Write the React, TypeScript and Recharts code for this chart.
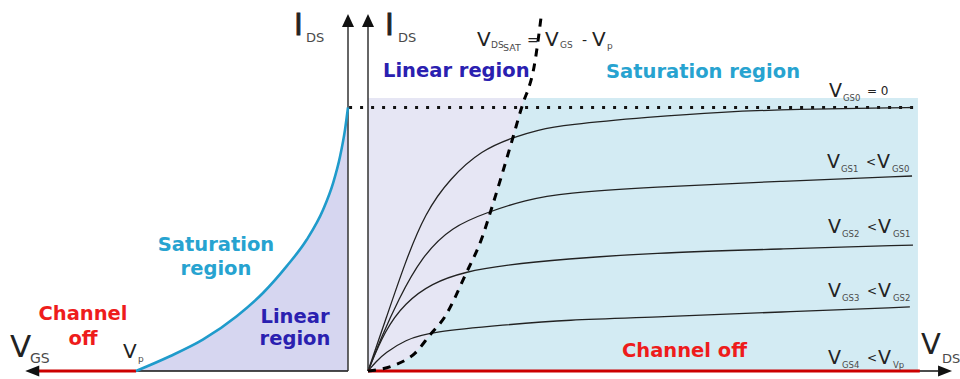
import React from 'react';
import { ComposedChart, Line, Area, Scatter, XAxis, YAxis } from 'recharts';

type P = [number, number];

// ---------- Left panel: transfer characteristic (x = VGS, y = IDS, IDSS = 10) ----------
const transferCurve: P[] = [
  [-4, 0], [-3.36, 0.56], [-2.74, 1.19], [-2.1, 2.08], [-1.6, 2.97], [-1.16, 3.97],
  [-0.78, 4.98], [-0.47, 6.12], [-0.28, 7.14], [-0.15, 8.14], [-0.057, 9.15], [0, 10],
];
const leftChannelOff: P[] = [[-5.85, 0], [-4, 0]];
const leftXAxisLine: P[] = [[-5.85, 0], [0, 0]];
const leftYAxisLine: P[] = [[0, 0], [0, 13.1]];
const leftXTip: P[] = [[-6.09, 0]];
const leftYTip: P[] = [[0, 13.55]];

// ---------- Right panel: output characteristic (x = VDS, y = IDS) ----------
const vgs0: P[] = [
  [0, 0], [0.6, 2.05], [1.19, 4.1], [1.84, 6.0], [2.65, 7.32], [3.67, 8.39],
  [4.69, 8.87], [5.48, 9.15], [6.35, 9.34], [9.1, 9.64], [11.35, 9.83], [13.94, 9.94],
  [16.52, 9.98], [17.55, 10.0],
];
const vgs1: P[] = [
  [0, 0], [0.44, 1.3], [0.97, 2.69], [1.73, 4.34], [2.7, 5.48], [3.87, 6.03], [5.06, 6.49],
  [6.35, 6.76], [9.1, 6.98], [13.29, 7.2], [17.55, 7.4],
];
const vgs2: P[] = [
  [0, 0], [0.55, 1.56], [1.19, 2.58], [2.05, 3.33], [3.13, 3.77], [4.42, 4.02], [6.35, 4.25],
  [9.1, 4.48], [13.29, 4.63], [17.58, 4.78],
];
const vgs3: P[] = [
  [0, 0], [0.26, 0.36], [0.55, 0.68], [1.19, 1.18], [2.05, 1.49], [4.42, 1.75], [6.35, 1.94],
  [9.42, 2.05], [13.29, 2.24], [17.48, 2.43],
];
const vgs4ChannelOff: P[] = [[0, 0], [17.8, 0]];
const vdsSat: P[] = [
  [0, 0], [0.87, 0.23], [1.52, 0.68], [2.0, 1.37], [2.48, 2.06], [3.13, 3.62], [3.71, 5.16],
  [3.97, 6.11], [4.68, 8.88], [4.96, 10.01], [5.06, 10.36], [5.16, 10.66], [5.35, 11.5], [5.58, 13.4],
];
const idssLine: P[] = [[-0.61, 10], [17.6, 10]];
const regionTop = 10.36;
const regionEnd = 17.74;
const rightXAxisLine: P[] = [[0, 0], [18.4, 0]];
const rightYAxisLine: P[] = [[0, 0], [0, 13.1]];
const rightXTip: P[] = [[18.84, 0]];
const rightYTip: P[] = [[0, 13.55]];

const xy = (pts: P[]) => pts.map(([x, y]) => ({ x, y }));

const W = 960;
const H = 379;
const Y_DOMAIN: [number, number] = [-0.25, 14];
const V_MARGIN = { top: 2.1, bottom: 1.41 };

const AXIS = '#333';
const RED = '#cc0000';
const TEXT_RED = '#ee1c1c';
const SAT_BLUE = '#27a3d0';
const LIN_BLUE = '#2a20b0';

const upArrow = (p: any) => (
  <path d={`M${p.cx},${p.cy} L${p.cx - 6},${p.cy + 13} L${p.cx + 6},${p.cy + 13} Z`} fill="#111" />
);
const rightArrow = (p: any) => (
  <path d={`M${p.cx},${p.cy} L${p.cx - 14},${p.cy - 5.5} L${p.cx - 14},${p.cy + 5.5} Z`} fill="#111" />
);
const leftArrow = (p: any) => (
  <path d={`M${p.cx},${p.cy} L${p.cx + 14},${p.cy - 5.5} L${p.cx + 14},${p.cy + 5.5} Z`} fill="#111" />
);

const LeftChart = () => (
  <ComposedChart width={W} height={H} margin={{ left: 3.5, right: 585.5, ...V_MARGIN }}>
    <XAxis type="number" dataKey="x" domain={[-6.5, 0.5]} allowDataOverflow hide />
    <YAxis type="number" domain={Y_DOMAIN} allowDataOverflow hide />
    <Area data={xy(transferCurve)} dataKey="y" type="monotone" baseValue={0} fill="#d6d6f0" fillOpacity={1} stroke="none" isAnimationActive={false} />
    <Line data={xy(leftXAxisLine)} dataKey="y" type="linear" stroke="#111" strokeWidth={1.5} dot={false} activeDot={false} isAnimationActive={false} />
    <Line data={xy(leftYAxisLine)} dataKey="y" type="linear" stroke={AXIS} strokeWidth={1.5} dot={false} activeDot={false} isAnimationActive={false} />
    <Line data={xy(leftChannelOff)} dataKey="y" type="linear" stroke={RED} strokeWidth={3} dot={false} activeDot={false} isAnimationActive={false} />
    <Line data={xy(transferCurve)} dataKey="y" type="monotone" stroke="#1f9bcb" strokeWidth={2.6} dot={false} activeDot={false} isAnimationActive={false} />
    <Scatter data={xy(leftXTip)} dataKey="y" shape={leftArrow} isAnimationActive={false} />
    <Scatter data={xy(leftYTip)} dataKey="y" shape={upArrow} isAnimationActive={false} />
  </ComposedChart>
);

const RightChart = () => (
  <ComposedChart width={W} height={H} margin={{ left: 337, right: 3, ...V_MARGIN }}>
    <XAxis type="number" dataKey="x" domain={[-1, 19]} allowDataOverflow hide />
    <YAxis type="number" domain={Y_DOMAIN} allowDataOverflow hide />
    <Area data={xy([[0, regionTop], [5.3, regionTop]])} dataKey="y" type="linear" baseValue={0} fill="#e6e6f4" fillOpacity={1} stroke="none" isAnimationActive={false} />
    <Area data={xy([...vdsSat.filter(([, i]) => i <= regionTop), [regionEnd, regionTop]])} dataKey="y" type="monotone" baseValue={0} fill="#d3ebf3" fillOpacity={1} stroke="none" isAnimationActive={false} />
    <Line data={xy(idssLine)} dataKey="y" type="linear" stroke="#111" strokeWidth={3} strokeDasharray="3 8" dot={false} activeDot={false} isAnimationActive={false} />
    {[vgs0, vgs1, vgs2, vgs3].map((c, i) => (
      <Line key={i} data={xy(c)} dataKey="y" type="basis" stroke="#222" strokeWidth={1.3} dot={false} activeDot={false} isAnimationActive={false} />
    ))}
    <Line data={xy(rightXAxisLine)} dataKey="y" type="linear" stroke="#111" strokeWidth={1.5} dot={false} activeDot={false} isAnimationActive={false} />
    <Line data={xy(rightYAxisLine)} dataKey="y" type="linear" stroke={AXIS} strokeWidth={1.5} dot={false} activeDot={false} isAnimationActive={false} />
    <Line data={xy(vgs4ChannelOff)} dataKey="y" type="linear" stroke={RED} strokeWidth={3} dot={false} activeDot={false} isAnimationActive={false} />
    <Line data={xy(vdsSat)} dataKey="y" type="monotone" stroke="#000" strokeWidth={3} strokeDasharray="8 7" dot={false} activeDot={false} isAnimationActive={false} />
    <Scatter data={xy(rightXTip)} dataKey="y" shape={rightArrow} isAnimationActive={false} />
    <Scatter data={xy(rightYTip)} dataKey="y" shape={upArrow} isAnimationActive={false} />
  </ComposedChart>
);

const SUB = '#4a4a4a';
const MAIN = '#222';

const VLabel = ({ x, y, sub, rhs }: { x: number; y: number; sub: string; rhs: string }) => (
  <g>
    <text x={x} y={y} fontSize={19} fill={MAIN}>V</text>
    <text x={x + 14} y={y + 4} fontSize={8.5} fill={SUB}>{sub}</text>
    <text x={x + 39} y={y - 2} fontSize={12} fill={MAIN}>&lt;</text>
    <text x={x + 50} y={y} fontSize={19} fill={MAIN}>V</text>
    <text x={x + 65} y={y + 4} fontSize={8.5} fill={SUB}>{rhs}</text>
  </g>
);

const Labels = () => (
  <svg width={W} height={H} style={{ position: 'absolute', left: 0, top: 0 }} fontFamily="DejaVu Sans">
    {/* axis titles */}
    <text x={294} y={35} fontSize={30} fill={MAIN} stroke={MAIN} strokeWidth={0.8}>I</text>
    <text x={306} y={42} fontSize={13} fill={SUB}>DS</text>
    <text x={385} y={35} fontSize={30} fill={MAIN} stroke={MAIN} strokeWidth={0.8}>I</text>
    <text x={398} y={42} fontSize={13} fill={SUB}>DS</text>
    <text x={10} y={357} fontSize={31} fill={MAIN}>V</text>
    <text x={30} y={363} fontSize={14} fill={SUB}>GS</text>
    <text x={921} y={354} fontSize={29} fill={MAIN}>V</text>
    <text x={942} y={363} fontSize={13} fill={SUB}>DS</text>
    <text x={123} y={358} fontSize={20} fill={MAIN}>V</text>
    <text x={138} y={362} fontSize={9} fill={SUB}>p</text>

    {/* VDSsat formula */}
    <text x={477} y={46} fontSize={20} fill={MAIN}>V</text>
    <text x={491} y={48} fontSize={9} fill={SUB}>DS</text>
    <text x={503} y={51} fontSize={9.5} fill={SUB}>SAT</text>
    <text x={527} y={45} fontSize={14} fill={MAIN}>=</text>
    <text x={545} y={46} fontSize={20} fill={MAIN}>V</text>
    <text x={560} y={48} fontSize={9} fill={SUB}>GS</text>
    <text x={582} y={45} fontSize={14} fill={MAIN}>-</text>
    <text x={592} y={46} fontSize={20} fill={MAIN}>V</text>
    <text x={607} y={49} fontSize={9} fill={SUB}>p</text>

    {/* region names */}
    <g fontWeight="bold" fontSize={19.5}>
      <text x={383} y={77} fill={LIN_BLUE}>Linear region</text>
      <text x={606} y={78} fill={SAT_BLUE}>Saturation region</text>
      <text x={622} y={357} fill={TEXT_RED}>Channel off</text>
      <text x={83} y={320} fill={TEXT_RED} textAnchor="middle">Channel</text>
      <text x={83} y={345} fill={TEXT_RED} textAnchor="middle">off</text>
      <text x={216} y={251} fill={SAT_BLUE} textAnchor="middle">Saturation</text>
      <text x={216} y={275} fill={SAT_BLUE} textAnchor="middle">region</text>
      <text x={295} y={323} fill={LIN_BLUE} textAnchor="middle">Linear</text>
      <text x={295} y={345} fill={LIN_BLUE} textAnchor="middle">region</text>
    </g>

    {/* gate-voltage curve labels */}
    <text x={829} y={97} fontSize={19} fill={MAIN}>V</text>
    <text x={843} y={101} fontSize={8.5} fill={SUB}>GS0</text>
    <text x={867} y={95} fontSize={12} fill={MAIN}>= 0</text>
    <VLabel x={827} y={168} sub="GS1" rhs="GS0" />
    <VLabel x={828} y={233} sub="GS2" rhs="GS1" />
    <VLabel x={828} y={297} sub="GS3" rhs="GS2" />
    <VLabel x={828} y={364} sub="GS4" rhs="Vp" />
  </svg>
);

export default function App() {
  return (
    <div style={{ position: 'absolute', left: 0, top: 0, width: W, height: H, background: '#fff' }}>
      <div style={{ position: 'absolute', left: 0, top: 0 }}>
        <RightChart />
      </div>
      <div style={{ position: 'absolute', left: 0, top: 0 }}>
        <LeftChart />
      </div>
      <Labels />
    </div>
  );
}
